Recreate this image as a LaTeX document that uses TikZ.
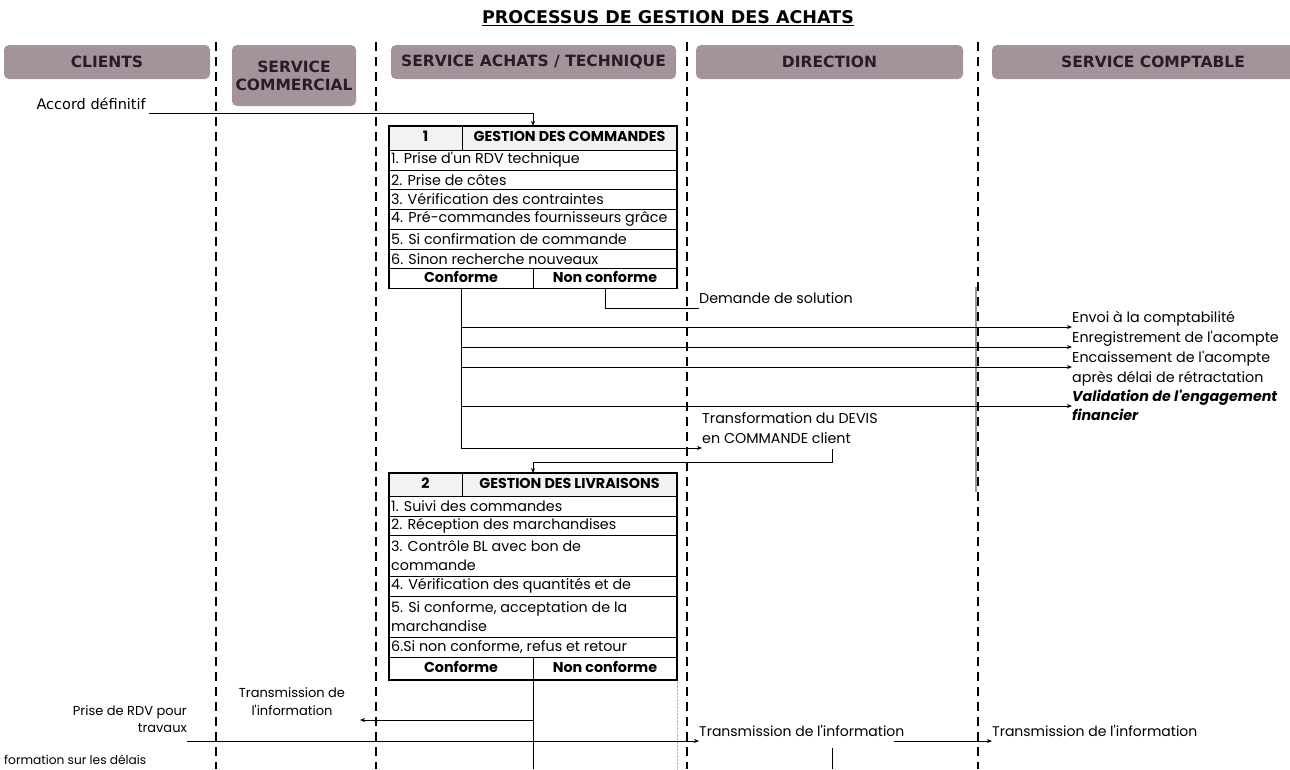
\documentclass[tikz,border=0pt]{standalone}
\usepackage{fontspec}
\setmainfont{Poppins}[Ligatures=TeXOff]
\newfontfamily\lanefont{DejaVu Sans}
\usetikzlibrary{arrows.meta}
\usetikzlibrary{calc}
\usetikzlibrary{positioning}

\definecolor{lanemauve}{RGB}{164,147,155}
\definecolor{lanedark}{RGB}{40,28,38}
\definecolor{headgray}{RGB}{242,242,242}

\newcommand{\bodysize}{\fontsize{14.3}{19}\selectfont}
\newcommand{\smallsize}{\fontsize{13}{17}\selectfont}

\tikzset{
    rowtext/.style={anchor=west, inner sep=0pt, font=\bodysize, align=left},
    txt/.style={font=\bodysize, inner sep=0pt, text height=11pt, text depth=4pt},
}

\newcommand{\drawrow}[4]{
    \draw [line width=0.8pt] (389,#2) rectangle (677,#3);
    \node [rowtext] (#1) at (391,{(#2+#3)/2}) {#4};
}
\newcommand{\drawtablehead}[5]{
    \draw [line width=0.8pt, fill=headgray] (389,#2) rectangle (677,#3);
    \draw [line width=0.8pt] (462,#2) -- (462,#3);
    \node [txt, font=\bodysize\bfseries] (#1num) at (425.5,{(#2+#3)/2}) {#4};
    \node [txt, font=\bodysize\bfseries] (#1) at (569.5,{(#2+#3)/2}) {#5};
}
\newcommand{\drawtablefoot}[3]{
    \draw [line width=0.8pt] (389,#2) rectangle (677,#3);
    \draw [line width=0.8pt] (533,#2) -- (533,#3);
    \node [txt, font=\bodysize\bfseries] (#1ok) at (461,{(#2+#3)/2}) {Conforme};
    \node [txt, font=\bodysize\bfseries] (#1nok) at (605,{(#2+#3)/2}) {Non conforme};
    \coordinate (#1okout) at (461,#3);
    \coordinate (#1nokout) at (605,#3);
    \coordinate (#1split) at (533,#3);
}

\begin{document}
\begin{tikzpicture}[x=1pt, y=-1pt,
    lanehead/.style={fill=lanemauve, rounded corners=5pt, text=lanedark, font=\lanefont\bfseries\fontsize{15.5}{18}\selectfont, align=center, inner sep=0pt},
    lanesep/.style={line width=1.8pt, dash pattern=on 9pt off 6pt},
    link/.style={line width=1pt},
    flow/.style={line width=1pt, -{Stealth[length=5pt, width=4pt]}},
]
    \useasboundingbox (0,0) rectangle (1290,769);
    % title and lanes
    \node [font=\lanefont\bfseries\fontsize{17.5}{20}\selectfont] (title) at (668,18) {\underline{PROCESSUS DE GESTION DES ACHATS}};
    \node [lanehead, minimum width=206pt, minimum height=34pt] (clients) at (107,62) {CLIENTS};
    \node [lanehead, minimum width=124pt, minimum height=61pt] (commercial) at (294,75.5) {SERVICE\\COMMERCIAL};
    \node [lanehead, minimum width=285pt, minimum height=34pt] (achats) at (533.5,62) {SERVICE ACHATS / TECHNIQUE};
    \node [lanehead, minimum width=267pt, minimum height=34pt] (direction) at (829.5,62) {DIRECTION};
    \node [lanehead, minimum width=322pt, minimum height=34pt] (comptable) at (1153,62) {SERVICE COMPTABLE};
    \draw [gray!80, line width=1.2pt] (976,287) -- (976,492);
    \draw [gray!60, densely dotted] (677,679) -- (677,769);
    \foreach \x in {216,376,687,978}
        \draw [lanesep] (\x,42) -- (\x,769);

    % commandes
    \drawtablehead{cmd}{126}{150}{1}{GESTION DES COMMANDES}
    \drawrow{cmdr1}{150}{170}{1. Prise d'un RDV technique}
    \drawrow{cmdr2}{170}{189.5}{2. Prise de côtes}
    \drawrow{cmdr3}{189.5}{209}{3. Vérification des contraintes}
    \drawrow{cmdr4}{209}{229}{4. Pré-commandes fournisseurs grâce}
    \drawrow{cmdr5}{229}{249}{5. Si confirmation de commande}
    \drawrow{cmdr6}{249}{268.5}{6. Sinon recherche nouveaux}
    \drawtablefoot{cmd}{268.5}{288.5}
    \draw [line width=1.8pt] (389,126) rectangle (677,288.5);

    % accord
    \node [txt, font=\lanefont\fontsize{14.5}{17}\selectfont, anchor=base east] (accord) at (146,109) {Accord définitif};
    \coordinate (cmdin) at (533,126);
    \draw [flow] ([xshift=3pt]accord.base east) ++(0,4) -| (cmdin);

    % comptabilite
    \node [txt, anchor=south west] (solution) at (699,308) {Demande de solution};
    \draw [link] (cmdnokout) |- (solution.south west);
    \node [txt, anchor=south west] (envoi) at (1072,327) {Envoi à la comptabilité};
    \node [txt, anchor=south west] (enreg) at (1072,347) {Enregistrement de l'acompte};
    \node [txt, anchor=south west] (encaisse) at (1072,367) {Encaissement de l'acompte};
    \node [txt, anchor=base west] (apres) at ([yshift=-20pt]encaisse.base west) {après délai de rétractation};
    \node [txt, font=\bodysize\bfseries\itshape, anchor=south west] (valid) at (1072,406) {Validation de l'engagement};
    \node [txt, font=\bodysize\bfseries\itshape, anchor=base west] (financier) at ([yshift=-19pt]valid.base west) {financier};
    \node [txt, anchor=south west] (trans2) at (702,448) {en COMMANDE client};
    \node [txt, anchor=base west] (trans1) at ([yshift=20pt]trans2.base west) {Transformation du DEVIS};
    \draw [link] (cmdokout) -- (cmdokout |- trans2.south west);
    \foreach \t in {envoi,enreg,encaisse,valid,trans2}
        \draw [flow] (cmdokout |- \t.south west) -- (\t.south west);

    % livraisons
    \coordinate (transout) at (832,449);
    \coordinate (livin) at (533,473);
    \draw [flow] (transout) -- ++(0,13) -| (livin);
    \drawtablehead{liv}{473}{496}{2}{GESTION DES LIVRAISONS}
    \drawrow{livr1}{496}{516}{1. Suivi des commandes}
    \drawrow{livr2}{516}{535}{2. Réception des marchandises}
    \drawrow{livr3}{535}{576}{3. Contrôle BL avec bon de\\commande}
    \drawrow{livr4}{576}{596}{4. Vérification des quantités et de}
    \drawrow{livr5}{596}{637}{5. Si conforme, acceptation de la\\marchandise}
    \drawrow{livr6}{637}{657}{6.Si non conforme, refus et retour}
    \drawtablefoot{liv}{657}{680}
    \draw [line width=1.8pt] (389,473) rectangle (677,680);

    % information
    \coordinate (livbottom) at (533,769);
    \draw [link] (livsplit) -- (livbottom);
    \node [txt, font=\smallsize] (info1) at (292,694) {Transmission de};
    \node [txt, font=\smallsize] (info2) at (292,712) {l'information};
    \coordinate (infoend) at (360,720);
    \draw [flow] (livsplit |- infoend) -- (infoend);
    \node [txt, font=\smallsize, anchor=base east] (rdv1) at (187,715) {Prise de RDV pour};
    \node [txt, font=\smallsize, anchor=base east] (rdv2) at (187,732) {travaux};
    \node [txt, font=\fontsize{12.2}{15}\selectfont, anchor=base west] (delais) at (4,764) {formation sur les délais};
    \node [txt, font=\fontsize{14}{17}\selectfont, anchor=south west] (dirinfo) at (699,741) {Transmission de l'information};
    \node [txt, font=\fontsize{14}{17}\selectfont, anchor=south west] (cptinfo) at (992,741) {Transmission de l'information};
    \draw [flow] (rdv2.south east |- dirinfo.south west) -- (dirinfo.south west);
    \draw [flow] ([xshift=-11pt]dirinfo.south east) -- (cptinfo.south west);
    \coordinate (nokdown) at (832,748);
    \coordinate (nokbottom) at (832,769);
    \draw [link] (nokdown) -- (nokbottom);
\end{tikzpicture}
\end{document}
